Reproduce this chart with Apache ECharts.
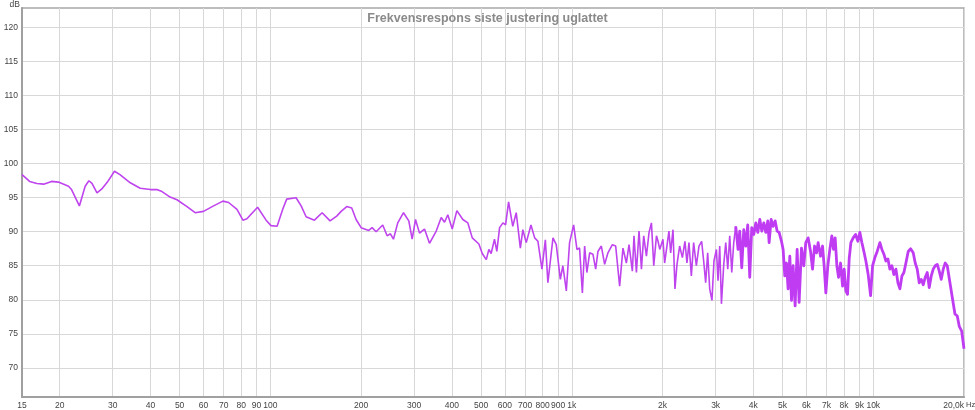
<!DOCTYPE html>
<html>
<head>
<meta charset="utf-8">
<script src="https://cdn.jsdelivr.net/npm/echarts@6/dist/echarts.min.js"></script>
<style>
  html, body { margin: 0; padding: 0; background: #fff; }
  #chart { width: 975px; height: 410px; }
</style>
</head>
<body>
<div id="chart"></div>
<script>
// frequency (Hz) / level (dB)
const freqs = [
  15, 15.9, 16.8, 17.7, 18.8, 19.8, 21.4, 21.9, 23.25, 24.3, 25.0, 25.6, 26.6, 27.6, 28.8,
  30.4, 31.7, 34.3, 37, 40, 42, 43.7, 46.5, 49, 52.9, 56.3, 60, 64.8, 69.6, 72.7,
  77.5, 81.1, 83.6, 90.7, 96.8, 100.5, 105.3, 109.9, 113.3, 121.7, 126.5, 131.4, 140, 148.5,
  157.8, 166, 171.7, 179.2, 186.2, 192.5, 200, 212, 217.5, 224.3, 235.9, 244, 250.2, 256,
  264.6, 276.5, 287.9, 295.4, 303, 312.4, 324.6, 337.2, 355, 368.8, 378.2, 387.8, 401.2,
  415.6, 435, 452, 467.5, 491.7, 504.6, 520.3, 530.7, 540, 554, 564, 576, 591, 603, 617,
  637, 654, 675, 688, 706, 732, 753, 772, 796, 817, 833, 866, 888, 916, 934, 959, 983,
  1014, 1040, 1061, 1084, 1103, 1122, 1146, 1175, 1200, 1221, 1253, 1285, 1318, 1363, 1398,
  1441, 1478, 1517, 1548, 1588, 1608, 1638, 1671, 1702, 1732, 1768, 1804, 1837, 1870, 1909,
  1932, 1958, 2006, 2032, 2068, 2100, 2128, 2166, 2199, 2233, 2279, 2327, 2373, 2410, 2447,
  2492, 2536, 2589, 2642, 2696, 2738, 2780, 2823, 2867, 2917, 2962, 3018, 3055, 3095, 3136,
  3192, 3241, 3291, 3341, 3393, 3445, 3498, 3560, 3607, 3662, 3719, 3776, 3834, 3893, 3953,
  4015, 4077, 4140, 4204, 4268, 4334, 4401, 4469, 4514, 4584, 4654, 4726, 4798, 4872, 4962,
  5023, 5088, 5155, 5218, 5287, 5356, 5422, 5506, 5591, 5677, 5780, 5884, 5972, 6081, 6194,
  6289, 6386, 6484, 6564, 6685, 6789, 6872, 6962, 7069, 7178, 7289, 7384, 7475, 7573, 7672,
  7790, 7910, 8008, 8112, 8218, 8320, 8429, 8578, 8737, 8892, 9028, 9168, 9309, 9453, 9620,
  9799, 9949, 10125, 10305, 10520, 10683, 10847, 11014, 11184, 11356, 11531, 11709, 11890,
  12073, 12259, 12447, 12638, 12833, 13061, 13303, 13570, 13779, 13991, 14207, 14426, 14648,
  14874, 15103, 15336, 15573, 15811, 16055, 16303, 16554, 16809, 17068, 17331, 17598, 17965,
  18340, 18665, 18996, 19289, 19647, 20000
];
const levels = [
  98.4, 97.4, 97.1, 97.0, 97.4, 97.3, 96.7, 96.2, 93.8, 96.7, 97.5, 97.1, 95.7, 96.3, 97.3,
  98.9, 98.4, 97.2, 96.4, 96.2, 96.2, 95.9, 95.1, 94.7, 93.7, 92.8, 93.0, 93.8, 94.5, 94.3,
  93.3, 91.7, 91.9, 93.6, 91.7, 90.9, 90.8, 93.3, 94.8, 95.0, 93.8, 92.2, 91.7, 92.8,
  91.6, 92.3, 93.0, 93.7, 93.5, 91.8, 90.6, 90.2, 90.6, 90.0, 91.0, 89.4, 89.7, 88.9,
  91.3, 92.8, 91.6, 88.9, 91.8, 89.8, 90.4, 88.3, 90.1, 92.1, 91.4, 92.5, 90.4,
  93.1, 91.8, 91.3, 89.1, 88.2, 86.8, 85.9, 87.4, 86.8, 88.9, 87.1, 90.6, 91.3, 91.0, 94.4,
  90.8, 92.8, 87.6, 90.3, 88.4, 91.0, 89.1, 88.6, 84.5, 88.8, 82.5, 89.1, 88.1, 83.0, 85.0, 81.3, 88.4,
  91.0, 87.4, 87.6, 81.0, 87.9, 84.0, 86.9, 86.7, 84.5, 87.1, 87.9, 85.2, 86.9, 88.1, 87.9,
  82.0, 87.6, 85.4, 88.1, 84.2, 89.4, 84.0, 90.1, 84.5, 89.4, 86.4, 89.9, 91.3, 85.0, 89.4,
  88.6, 87.4, 88.9, 85.4, 87.9, 90.1, 86.9, 90.3, 81.6, 85.2, 87.9, 86.2, 88.6, 85.4, 88.4,
  83.5, 88.4, 85.0, 87.9, 88.6, 85.7, 82.5, 86.9, 81.6, 79.9, 85.7, 87.4, 82.8, 87.9, 79.4,
  85.2, 88.4, 84.5, 89.4, 84.0, 88.4, 90.8, 87.4, 90.1, 84.7, 90.3, 87.9, 91.0, 83.3, 90.6,
  89.6, 91.3, 89.9, 91.8, 90.1, 91.3, 89.9, 91.6, 88.4, 91.8, 90.8, 91.6, 90.1, 89.9, 88.6,
  87.4, 83.5, 85.4, 81.6, 86.4, 79.9, 85.0, 79.1, 87.4, 79.6, 87.6, 85.0, 88.4, 89.1, 87.1,
  84.5, 87.9, 86.9, 88.4, 86.4, 87.9, 85.0, 81.0, 85.0, 87.4, 89.4, 87.4, 89.1, 85.0, 83.3,
  85.4, 82.0, 84.5, 81.3, 80.8, 86.0, 88.4, 89.1, 89.6, 88.6, 89.9, 88.4, 87.1, 85.7, 83.7,
  80.6, 85.0, 86.2, 87.1, 88.4, 87.4, 86.7, 85.7, 86.0, 84.5, 85.0, 83.7, 84.5,
  82.5, 81.6, 83.5, 84.0, 85.4, 87.1, 87.5, 86.9, 85.4, 84.5, 82.5, 83.0, 82.2,
  83.3, 84.0, 81.8, 83.5, 84.5, 85.0, 85.2, 84.2, 83.0, 84.5, 85.4, 85.0, 82.5,
  80.0, 77.9, 77.6, 76.1, 75.4, 72.8
];
const freqTicks = [15, 20, 30, 40, 50, 60, 70, 80, 90, 100, 200, 300, 400, 500, 600, 700, 800, 900,
  1000, 2000, 3000, 4000, 5000, 6000, 7000, 8000, 9000, 10000, 20000];
const dbTicks = [70, 75, 80, 85, 90, 95, 100, 105, 110, 115, 120];

// above this the trace in the reference is a dense, thick band
const bandStart = 3498;

const chart = echarts.init(document.getElementById('chart'));
const labelFont = { color: '#444', fontSize: 8.5, fontFamily: 'Liberation Sans, Arial, sans-serif' };

const points = freqs.map((f, i) => [f, levels[i]]);
const lowPart = points.filter(p => p[0] <= bandStart);
const highPart = points.filter(p => p[0] >= bandStart);

const option = {
  animation: false,
  title: {
    text: 'Frekvensrespons siste justering uglattet',
    left: 'center',
    top: 7,
    textStyle: { color: '#8a8a8a', fontSize: 12.5, fontWeight: 'bold', fontFamily: 'Liberation Sans, Arial, sans-serif' }
  },
  grid: {
    left: 22, right: 11, top: 8, bottom: 13,
    outerBoundsMode: 'none',
    containLabel: false,
    show: true, borderColor: '#a8a8a8', borderWidth: 1.5, backgroundColor: '#fff'
  },
  xAxis: {
    type: 'log',
    logBase: 10,
    min: 15,
    max: 20000,
    name: 'Hz',
    nameLocation: 'end',
    nameGap: 2,
    nameMoveOverlap: false,
    nameTextStyle: { color: '#444', fontSize: 7.5, fontFamily: 'Liberation Sans, Arial, sans-serif',
      align: 'left', verticalAlign: 'top', padding: [4, 0, 0, 0] },
    axisLine: { show: true, lineStyle: { color: '#a0a0a0', width: 2 } },
    axisTick: { show: false, customValues: freqTicks },
    axisLabel: Object.assign({
      customValues: freqTicks,
      margin: 4,
      alignMaxLabel: 'right',
      formatter: function (v) {
        const f = Math.round(v);
        if (f === 20000) return '20,0k';
        return f >= 1000 ? (f / 1000) + 'k' : String(f);
      }
    }, labelFont),
    splitLine: { show: true, lineStyle: { color: '#d8d8d8', width: 1 } }
  },
  yAxis: {
    type: 'value',
    min: 65.7,
    max: 122.9,
    name: 'dB',
    nameLocation: 'end',
    nameGap: -1,
    nameMoveOverlap: false,
    nameTextStyle: Object.assign({ align: 'right', padding: [0, 2, 0, 0] }, labelFont),
    axisLine: { show: true, lineStyle: { color: '#a0a0a0', width: 2 } },
    axisTick: { show: false, customValues: dbTicks },
    axisLabel: Object.assign({ customValues: dbTicks, margin: 4 }, labelFont),
    splitLine: { show: true, lineStyle: { color: '#d8d8d8', width: 1 } }
  },
  series: [{
    type: 'line',
    data: lowPart,
    showSymbol: false,
    clip: true,
    lineStyle: { color: '#bf44ee', width: 1.6 }
  }, {
    type: 'line',
    data: highPart,
    showSymbol: false,
    clip: true,
    lineStyle: { color: '#bf3cf2', width: 2.8, join: 'round' }
  }]
};
chart.setOption(option);
</script>
</body>
</html>
